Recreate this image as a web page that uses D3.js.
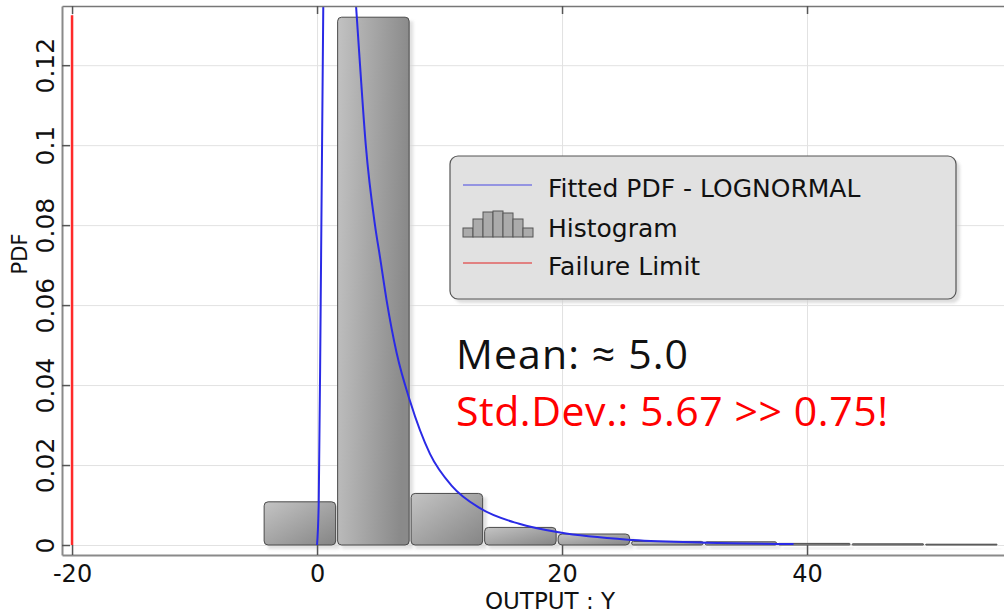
<!DOCTYPE html>
<head>
    <meta charset="utf-8">
    <script src="https://d3js.org/d3.v7.min.js"></script>
    <style>
        body {
            margin: 0;
            background: #fff;
        }
        text {
            font-family: "DejaVu Sans", sans-serif;
            fill: #111;
        }
    </style>
</head>

<body>
<svg id="graph" width=1004 height=613></svg>
<script>

    // ---- data ----
    const xTicks = [-20, 0, 20, 40];
    const yTicks = [0, 0.02, 0.04, 0.06, 0.08, 0.1, 0.12];

    const binEdges = [-4.4, 1.6, 7.6, 13.6, 19.6, 25.6, 31.6, 37.6, 43.6, 49.6, 55.6];
    const binDensity = [0.0108, 0.132, 0.0129, 0.0044, 0.00275, 0.0009, 0.0008, 0.0004, 0.0003, 0.0002];

    // fitted PDF, read point by point (null = curve leaves the top of the plot)
    const pdfX = [0.0, 0.14, 0.30, 0.51, 1.8, 3.18, 3.51, 3.98, 4.73, 5.14, 5.69, 6.5, 7.59, 9.22, 11.0, 13.3, 16.5, 19.84, 25.8, 31.8, 38.9];
    const pdfY = [0.0, 0.011, 0.061, 0.135, null, 0.135, 0.120, 0.100, 0.080, 0.072, 0.061, 0.048, 0.036, 0.0228, 0.0148, 0.0092, 0.0053, 0.0031, 0.00125, 0.00058, 0.00025];

    const failureLimit = -20;
    const failureTop = 0.1325;

    const legendLabels = ["Fitted PDF - LOGNORMAL", "Histogram", "Failure Limit"];
    const meanText = "Mean: \u2248 5.0";
    const stdText = "Std.Dev.: 5.67 >> 0.75!";

    // ---- layout ----
    const frame = {left: 62, right: 1004, top: 6, bottom: 555};

    let svg = d3.select("#graph");

    let x = d3.scaleLinear()
        .domain([-20.82, 56.08])
        .range([frame.left, frame.right]);

    let y = d3.scaleLinear()
        .domain([-0.0025, 0.1348])
        .range([frame.bottom, frame.top]);

    let defs = svg.append("defs");

    defs.append("clipPath").attr("id", "plotclip")
        .append("rect")
        .attr("x", frame.left).attr("y", frame.top)
        .attr("width", frame.right - frame.left).attr("height", frame.bottom - frame.top);

    let grad = defs.append("linearGradient").attr("id", "bargrad")
        .attr("x1", 0).attr("y1", 0).attr("x2", 1).attr("y2", 1);
    grad.append("stop").attr("offset", "0%").attr("stop-color", "#c4c4c4");
    grad.append("stop").attr("offset", "100%").attr("stop-color", "#858585");

    let gradV = defs.append("linearGradient").attr("id", "bargradtall")
        .attr("x1", 0).attr("y1", 0).attr("x2", 1).attr("y2", 0.15);
    gradV.append("stop").attr("offset", "0%").attr("stop-color", "#c2c2c2");
    gradV.append("stop").attr("offset", "100%").attr("stop-color", "#8a8a8a");

    defs.append("filter").attr("id", "blur")
        .attr("x", "-20%").attr("y", "-20%").attr("width", "140%").attr("height", "140%")
        .append("feGaussianBlur").attr("stdDeviation", 1.8);

    // ---- grid ----
    svg.append("g")
        .attr("transform", "translate(0," + frame.bottom + ")")
        .call(d3.axisBottom(x).tickValues(xTicks).tickSize(-(frame.bottom - frame.top)).tickFormat(""))
        .call(g => g.select(".domain").remove())
        .call(g => g.selectAll("line").attr("stroke", "#e2e2e2"));

    svg.append("g")
        .attr("transform", "translate(" + frame.left + ",0)")
        .call(d3.axisLeft(y).tickValues(yTicks).tickSize(-(frame.right - frame.left)).tickFormat(""))
        .call(g => g.select(".domain").remove())
        .call(g => g.selectAll("line").attr("stroke", "#e2e2e2"));

    // ---- histogram ----
    let bins = binDensity.map(function (d, i) {
        return {x0: binEdges[i], x1: binEdges[i + 1], v: d};
    });

    let hist = svg.append("g").attr("clip-path", "url(#plotclip)");

    hist.selectAll("rect.shadow").data(bins).enter()
        .append("rect")
        .attr("class", "shadow")
        .attr("x", d => x(d.x0) + 5)
        .attr("y", d => y(d.v) + 4)
        .attr("width", d => x(d.x1) - x(d.x0) - 2)
        .attr("height", d => y(0) - y(d.v))
        .attr("fill", "#d4d4d4")
        .attr("opacity", 0.7)
        .attr("filter", "url(#blur)");

    hist.selectAll("rect.bar").data(bins).enter()
        .append("rect")
        .attr("class", "bar")
        .attr("x", d => x(d.x0) + 1)
        .attr("y", d => y(d.v))
        .attr("width", d => x(d.x1) - x(d.x0) - 2)
        .attr("height", d => y(0) - y(d.v))
        .attr("rx", d => Math.min(4, (y(0) - y(d.v)) / 2))
        .attr("fill", d => (y(0) - y(d.v)) > 200 ? "url(#bargradtall)" : "url(#bargrad)")
        .attr("stroke", "#4a4a4a")
        .attr("stroke-width", 1);

    // ---- fitted pdf ----
    let pdfPts = pdfX.map((v, i) => [v, pdfY[i]]);
    let line = d3.line()
        .defined(d => d[1] !== null)
        .x(d => x(d[0]))
        .y(d => y(d[1]))
        .curve(d3.curveMonotoneX);

    svg.append("path")
        .datum(pdfPts)
        .attr("clip-path", "url(#plotclip)")
        .attr("d", line)
        .attr("fill", "none")
        .attr("stroke", "#2a2ae6")
        .attr("stroke-width", 2);

    // ---- failure limit ----
    svg.append("line")
        .attr("x1", x(failureLimit)).attr("x2", x(failureLimit))
        .attr("y1", y(0)).attr("y2", y(failureTop))
        .attr("stroke", "#ff2a2a")
        .attr("stroke-width", 2.5);

    // ---- axes ----
    let styleAxis = function (g) {
        g.select(".domain").attr("stroke", "#8a8a8a").attr("stroke-width", 2);
        g.selectAll(".tick line").attr("stroke", "#555").attr("stroke-width", 1.5);
    };

    svg.append("g")
        .attr("transform", "translate(0," + frame.bottom + ")")
        .call(d3.axisBottom(x).tickValues(xTicks).tickSize(-10).tickSizeOuter(0).tickFormat(d => String(d)))
        .call(styleAxis)
        .call(g => g.selectAll("text")
            .attr("y", 27).attr("dy", 0)
            .style("font-family", "DejaVu Sans")
            .style("font-size", "24px")
            .attr("fill", "#111"));

    svg.append("g")
        .attr("transform", "translate(0," + frame.top + ")")
        .call(d3.axisTop(x).tickValues(xTicks).tickSize(-8).tickSizeOuter(0).tickFormat(""))
        .call(styleAxis)
        .call(g => g.select(".domain").attr("stroke-width", 1.5).attr("stroke", "#777"));

    svg.append("g")
        .attr("transform", "translate(" + frame.left + ",0)")
        .call(d3.axisLeft(y).tickValues(yTicks).tickSize(-8).tickSizeOuter(0).tickFormat(d3.format("~g")))
        .call(styleAxis)
        .call(g => g.selectAll("text")
            .attr("transform", "rotate(-90)")
            .attr("x", 0).attr("y", -8).attr("dy", 0)
            .style("text-anchor", "middle")
            .style("font-family", "DejaVu Sans")
            .style("font-size", "25px")
            .attr("fill", "#111"));

    svg.append("text")
        .attr("x", 550)
        .attr("y", 609)
        .style("text-anchor", "middle")
        .style("font-size", "23px")
        .text("OUTPUT : Y");

    svg.append("text")
        .attr("transform", "translate(27,254) rotate(-90)")
        .style("text-anchor", "middle")
        .style("font-size", "21px")
        .text("PDF");

    // ---- legend ----
    let legend = svg.append("g");

    legend.append("rect")
        .attr("x", 454).attr("y", 160)
        .attr("width", 506).attr("height", 143)
        .attr("rx", 8)
        .attr("fill", "#cfcfcf")
        .attr("opacity", 0.7)
        .attr("filter", "url(#blur)");

    legend.append("rect")
        .attr("x", 450).attr("y", 156)
        .attr("width", 506).attr("height", 143)
        .attr("rx", 8)
        .attr("fill", "#e1e1e1")
        .attr("stroke", "#555")
        .attr("stroke-width", 1.2);

    legend.append("line")
        .attr("x1", 463).attr("x2", 532).attr("y1", 185).attr("y2", 185)
        .attr("stroke", "#7a7ae0").attr("stroke-width", 1.5);

    legend.append("line")
        .attr("x1", 463).attr("x2", 532).attr("y1", 263).attr("y2", 263)
        .attr("stroke", "#e06060").attr("stroke-width", 1.5);

    const iconHeights = [9, 18, 25, 26, 24, 18, 9];
    legend.selectAll("rect.icon").data(iconHeights).enter()
        .append("rect")
        .attr("class", "icon")
        .attr("x", (d, i) => 463 + i * 10)
        .attr("y", d => 237 - d)
        .attr("width", 10)
        .attr("height", d => d)
        .attr("fill", "#ababab")
        .attr("stroke", "#555")
        .attr("stroke-width", 1);

    legend.selectAll("text.lab").data(legendLabels).enter()
        .append("text")
        .attr("class", "lab")
        .attr("x", 548)
        .attr("y", (d, i) => [197, 237, 275][i])
        .style("font-size", "25px")
        .text(d => d);

    // ---- annotations ----
    svg.append("text")
        .attr("x", 456).attr("y", 369)
        .style("font-family", "'Open Sans', sans-serif")
        .style("font-size", "41px")
        .attr("textLength", 232)
        .attr("lengthAdjust", "spacing")
        .text(meanText);

    svg.append("text")
        .attr("x", 456).attr("y", 426)
        .style("font-family", "'Open Sans', sans-serif")
        .style("font-size", "41px")
        .style("fill", "#ff0000")
        .attr("textLength", 432)
        .attr("lengthAdjust", "spacing")
        .text(stdText);

</script>

</body>
